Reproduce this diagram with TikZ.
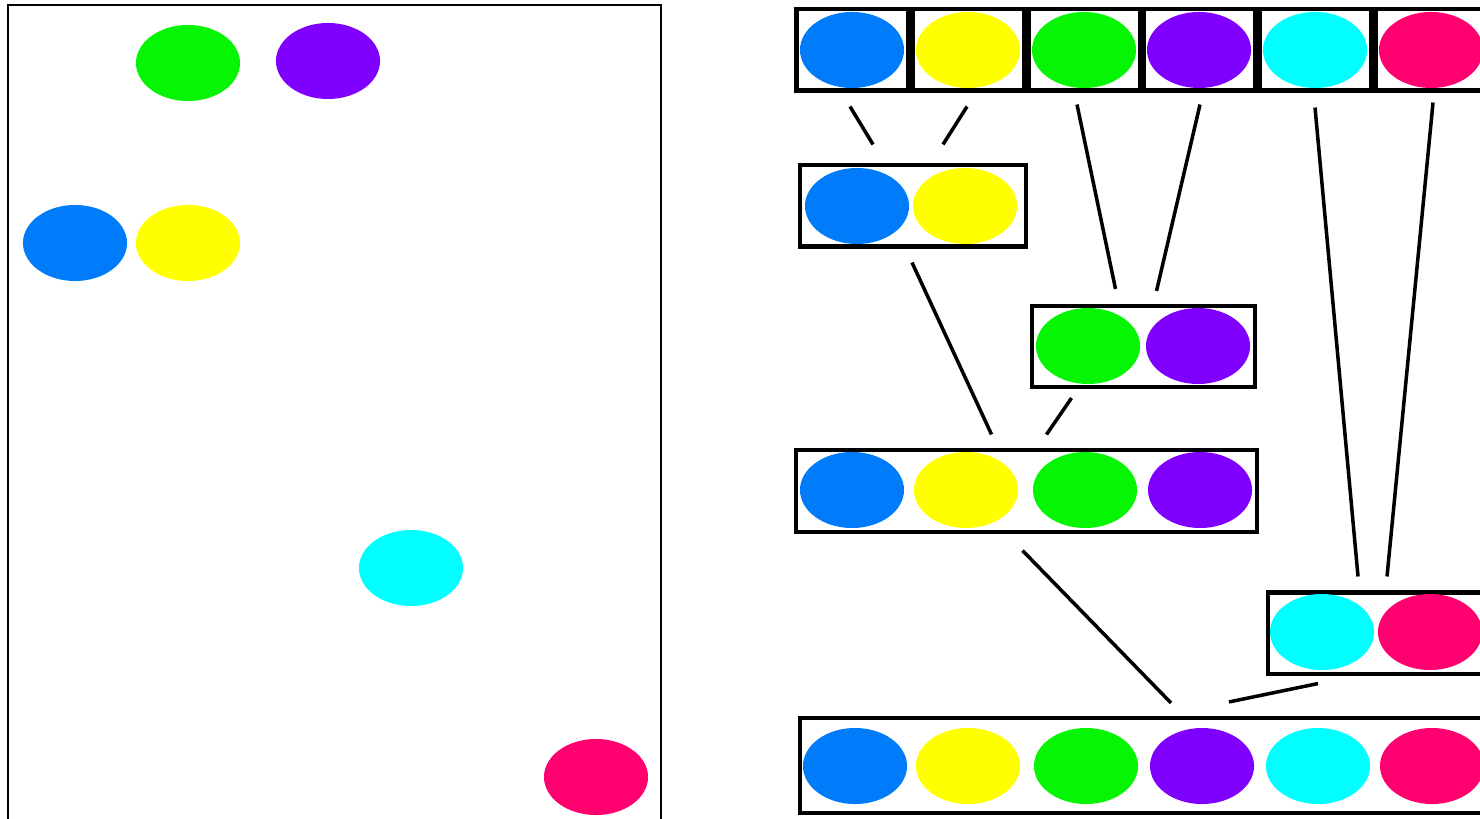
\documentclass[tikz,border=0pt]{standalone}
\usepackage{tikz}
\usetikzlibrary{shapes.geometric,calc,positioning}

\definecolor{ballblue}{RGB}{0,124,250}
\definecolor{ballyellow}{RGB}{255,255,0}
\definecolor{ballgreen}{RGB}{5,245,5}
\definecolor{ballpurple}{RGB}{128,0,255}
\definecolor{ballcyan}{RGB}{0,255,255}
\definecolor{ballpink}{RGB}{255,0,110}

\begin{document}
\begin{tikzpicture}[x=0.01cm,y=-0.01cm,
		ball/.style={ellipse,minimum width=1.04cm,minimum height=0.76cm,inner sep=0pt},
		bin/.style={draw=black,line width=1.15pt,minimum height=0.81cm,inner sep=0pt},
		link/.style={line width=1pt}]
			\useasboundingbox (0,0) rectangle (1480,819);
			\clip (0,0) rectangle (1480,819);
			% left panel: loose balls
			\draw[line width=0.7pt] (8,5) rectangle (661,850);
			\node[ball,fill=ballgreen] (lg) at (188,63) {};
			\node[ball,fill=ballpurple] (lp) at (328,61) {};
			\node[ball,fill=ballblue] (lb) at (75,243) {};
			\node[ball,fill=ballyellow] (ly) at (188,243) {};
			\node[ball,fill=ballcyan] (lc) at (411,568) {};
			\node[ball,fill=ballpink] (lm) at (596,777) {};
			% top row of single bins
			\foreach \i/\c/\x in {1/ballblue/852,2/ballyellow/968,3/ballgreen/1084,
				4/ballpurple/1199,5/ballcyan/1315,6/ballpink/1431} {
				\node[bin,minimum width=1.11cm] (t\i) at (\x,50) {};
				\node[ball,fill=\c] at (\x,50) {};
			}
			% merged bins
			\node[bin,minimum width=2.26cm] (by) at (913,206) {};
			\node[bin,minimum width=2.23cm] (gp) at (1143.5,346.5) {};
			\node[bin,minimum width=4.61cm] (four) at (1026.5,491) {};
			\node[bin,minimum width=2.26cm,anchor=west] (cm) at (1266,633) {};
			\node[bin,minimum width=7.00cm,minimum height=0.95cm,anchor=west] (all) at (798,765.5) {};
			% balls inside merged bins
			\foreach \c/\x in {ballblue/857,ballyellow/965}
				\node[ball,fill=\c] at (\x,206) {};
			\foreach \c/\x in {ballgreen/1088,ballpurple/1198}
				\node[ball,fill=\c] at (\x,346) {};
			\foreach \c/\x in {ballblue/852,ballyellow/966,ballgreen/1085,ballpurple/1200}
				\node[ball,fill=\c] at (\x,490) {};
			\foreach \c/\x in {ballcyan/1322,ballpink/1430}
				\node[ball,fill=\c] at (\x,632) {};
			\foreach \c/\x in {ballblue/855,ballyellow/968,ballgreen/1086,ballpurple/1202,ballcyan/1318,ballpink/1432}
				\node[ball,fill=\c] at (\x,766) {};
			% links between levels
			\draw[link] ($(t1.south)+(-2,14)$) -- ($(by.north)+(-40,-19)$);
			\draw[link] ($(t2.south)+(-1,14)$) -- ($(by.north)+(30,-19)$);
			\draw[link] ($(t3.south)+(-7,12)$) -- ($(gp.north)+(-28,-15)$);
			\draw[link] ($(t4.south)+(1,12)$) -- ($(gp.north)+(13,-13)$);
			\draw[link] ($(t5.south)+(0,15)$) -- ($(cm.north west)+(92,-14)$);
			\draw[link] ($(t6.south)+(2,10)$) -- ($(cm.north west)+(121,-14)$);
			\draw[link] ($(by.south)+(-1,14)$) -- ($(four.north)+(-35,-14)$);
			\draw[link] ($(gp.south)+(-72,9)$) -- ($(four.north)+(20,-14)$);
			\draw[link] ($(four.south)+(-4,17)$) -- ($(all.north west)+(373,-13)$);
			\draw[link] ($(cm.south west)+(52,8)$) -- ($(all.north west)+(431,-14)$);
		\end{tikzpicture}
\end{document}
